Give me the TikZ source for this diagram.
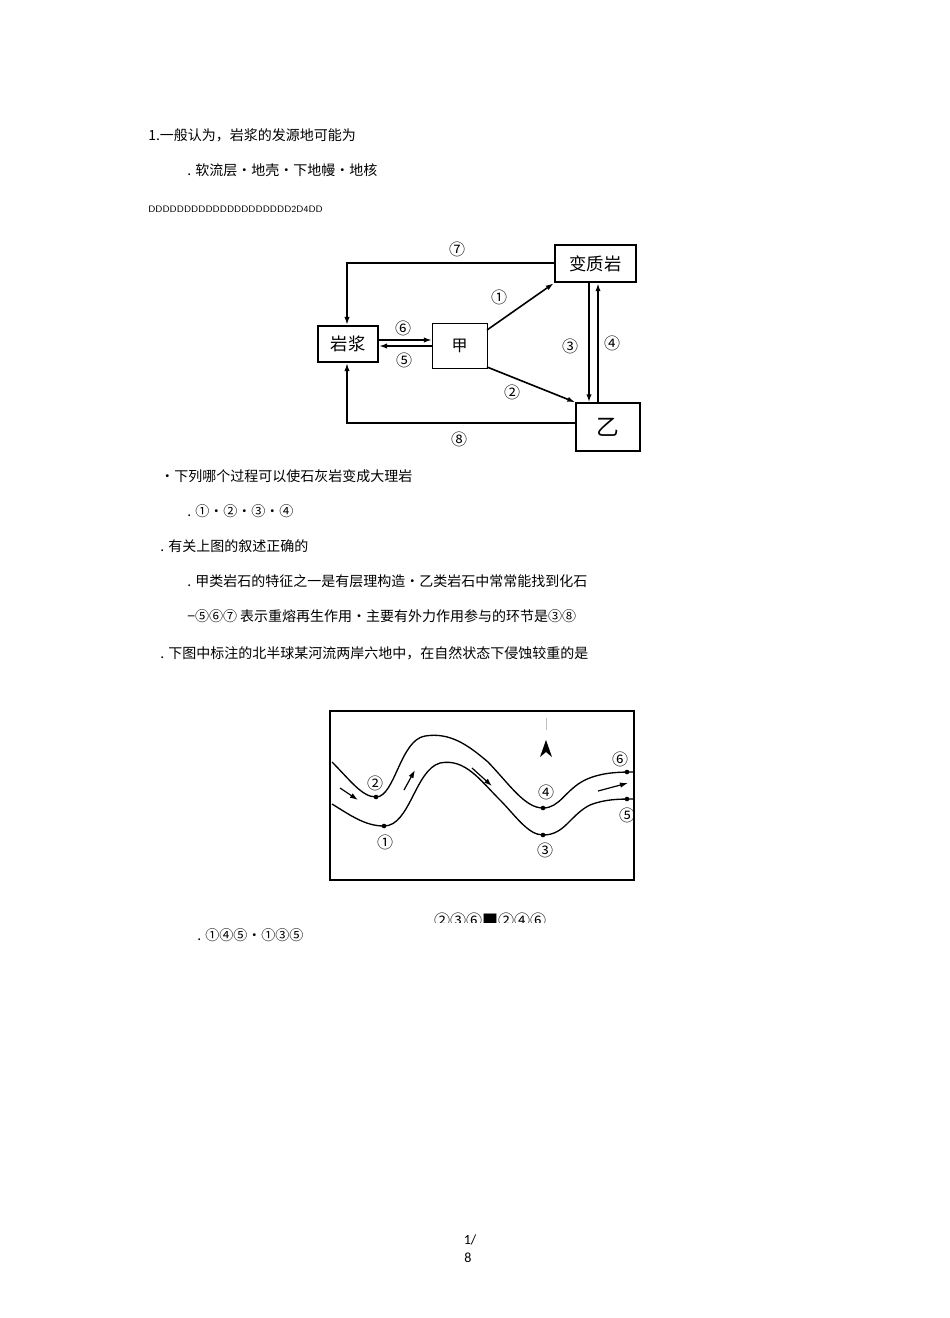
\documentclass[tikz,border=0pt]{standalone}
\usepackage{fontspec}
\setmainfont{Carlito}
\newfontfamily\cjk{Noto Sans CJK SC}
\usetikzlibrary{arrows.meta}
\begin{document}
\begin{tikzpicture}[x=0.75pt,y=-0.75pt,
 txt/.style={anchor=west,inner sep=0,font=\cjk\fontsize{10.5}{12}\selectfont},
 lbl/.style={inner sep=0,font=\cjk\fontsize{12}{12}\selectfont},
 box/.style={draw,line width=1.6pt,inner sep=0},
 ln/.style={line width=1.2pt},
 arr/.style={ln,-{Latex[length=6pt,width=4pt]}},
 bank/.style={line width=1pt}]
\useasboundingbox (0,0) rectangle (950,1318);
\node[txt] (t1) at (148,135) {1.一般认为，岩浆的发源地可能为};
\node[txt] (t2) at (187,170) {. 软流层•地壳•下地幔•地核};
\node[anchor=west,inner sep=0,font=\sffamily\fontsize{7}{8}\selectfont] (t3) at (148,209) {DDDDDDDDDDDDDDDDDDDD2D4DD};
% rock cycle
\node[box,minimum width=45pt,minimum height=27pt,font=\cjk\fontsize{13}{13}\selectfont] (mag) at (348,344) {岩浆};
\node[draw,inner sep=0,minimum width=41pt,minimum height=34pt,font=\cjk\fontsize{12}{12}\selectfont] (jia) at (459.5,346) {甲};
\node[box,minimum width=61pt,minimum height=28pt,font=\cjk\fontsize{13}{13}\selectfont] (met) at (595.5,263.5) {变质岩};
\node[draw,line width=1pt,inner sep=0,minimum width=48pt,minimum height=36pt,font=\cjk\fontsize{17}{17}\selectfont] (yi) at (608,427) {乙};
\coordinate (c7) at (347,263);
\coordinate (c8) at (347,423);
\draw[arr] (met.west |- 0,263) -- (c7) -- (mag.north -| c7);
\draw[arr] (yi.west |- 0,423) -- (c8) -- (mag.south -| c8);
\draw[arr] (mag.east |- 0,340) -- (jia.west |- 0,340);
\draw[arr] (jia.west |- 0,346) -- (mag.east |- 0,346);
\draw[arr] (487,330) -- (met.south west);
\draw[arr] (487,367) -- (yi.north west);
\draw[arr] (met.south -| 589,0) -- (yi.north -| 589,0);
\draw[arr] (yi.north -| 598,0) -- (met.south -| 598,0);
\node[lbl] (n7) at (457,249) {⑦};
\node[lbl] (n8) at (459,439) {⑧};
\node[lbl] (n6) at (403,328) {⑥};
\node[lbl] (n5) at (404,360) {⑤};
\node[lbl] (n1) at (499,297) {①};
\node[lbl] (n2) at (512,392) {②};
\node[lbl] (n3) at (570,346) {③};
\node[lbl] (n4) at (612,343) {④};
\node[txt] (t4) at (160,476) {•下列哪个过程可以使石灰岩变成大理岩};
\node[txt] (t5) at (187,511) {. ①•②•③•④};
\node[txt] (t6) at (160,546) {. 有关上图的叙述正确的};
\node[txt] (t7) at (187,581) {. 甲类岩石的特征之一是有层理构造•乙类岩石中常常能找到化石};
\node[txt] (t8) at (187,616) {−⑤⑥⑦ 表示重熔再生作用•主要有外力作用参与的环节是③⑧};
\node[txt] (t9) at (160,653) {. 下图中标注的北半球某河流两岸六地中，在自然状态下侵蚀较重的是};
% river
\draw[line width=1.5pt] (330,711) rectangle (634,880);
\draw[bank] (332,762) .. controls (350,780) and (362,797) .. (376,797)
  .. controls (395,797) and (400,740) .. (425,736)
  .. controls (450,732) and (468,745) .. (488,762)
  .. controls (510,785) and (525,808) .. (543,808)
  .. controls (560,808) and (565,790) .. (585,780)
  .. controls (600,773) and (615,772) .. (634,772);
\draw[bank] (332,804) .. controls (350,815) and (365,826) .. (384,826)
  .. controls (410,826) and (415,770) .. (440,763)
  .. controls (465,758) and (480,780) .. (500,800)
  .. controls (515,815) and (528,835) .. (543,835)
  .. controls (565,835) and (570,815) .. (590,805)
  .. controls (605,799) and (620,799) .. (634,799);
\foreach \p in {(376,797),(384,826),(543,808),(543,835),(627,772),(627,799)} \fill \p circle (2.3);
\draw[arr,line width=0.9pt] (340,788) -- (358,800);
\draw[arr,line width=0.9pt] (404,790) -- (415,770);
\draw[arr,line width=0.9pt] (472,768) -- (492,786);
\draw[arr,line width=0.9pt] (598,791) -- (628,783);
\fill (546,740) -- (540,757) -- (546,752) -- (552,757) -- cycle;
\draw[gray!50,line width=0.6pt] (546,718) -- (546,730);
\node[lbl] (r2) at (375,783) {②};
\node[lbl] (r1) at (385,842) {①};
\node[lbl] (r4) at (546,792) {④};
\node[lbl] (r3) at (545,850) {③};
\node[lbl] (r6) at (620,759) {⑥};
\node[lbl] (r5) at (627,815) {⑤};
\begin{scope}
\clip (400,905) rectangle (600,922);
\node[inner sep=0,font=\cjk\fontsize{12}{12}\selectfont] (opt) at (490,920) {②③⑥■②④⑥};
\end{scope}
\node[txt] (t10) at (197,935) {. ①④⑤•①③⑤};
\node[inner sep=0,font=\fontsize{10.5}{12}\selectfont] (pg1) at (470,1240) {1/};
\node[inner sep=0,font=\fontsize{10.5}{12}\selectfont] (pg2) at (468,1258) {8};
\end{tikzpicture}
\end{document}
